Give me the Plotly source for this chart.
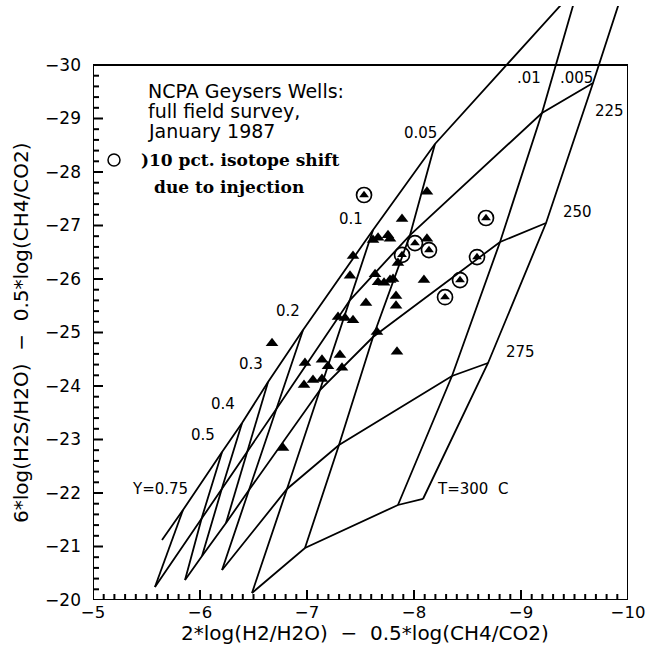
import plotly.graph_objects as go

# Steam-fraction (Y) levels, in the order nodes are listed along each isotherm
Y_LEVELS = [".005", ".01", "0.05", "0.1", "0.2", "0.3", "0.4", "0.5", "0.75"]

# Isotherm nodes (x, y) ordered by Y_LEVELS; T=200 carries one extra tail point
T200_X = [-10.047, -9.542, -8.196, -7.617, -6.963, -6.636, -6.393, -6.206, -5.841, -5.645]
T200_Y = [-31.963, -31.495, -28.523, -26.916, -25.047, -24.075, -23.308, -22.766, -21.682, -21.121]
T225_X = [-9.673, -9.196, -7.963, -7.402, -6.720, -6.439, -6.206, -6.019, -5.579]
T225_Y = [-29.664, -29.103, -26.822, -25.607, -23.589, -22.766, -22.093, -21.551, -20.243]
T250_X = [-9.234, -8.804, -7.617, -7.121, -6.458, -6.243, -6.019, -5.860]
T250_Y = [-27.047, -26.692, -24.916, -23.925, -22.056, -21.439, -20.822, -20.374]
T275_X = [-8.692, -8.355, -7.299, -6.813, -6.206]
T275_Y = [-24.430, -24.187, -22.897, -22.075, -20.561]
T300_X = [-8.084, -7.850, -6.981, -6.486]
T300_Y = [-21.888, -21.776, -20.972, -20.131]

# Well samples
WELL_X = [-8.121, -7.888, -7.617, -7.664, -7.757, -7.776, -8.121, -7.430, -7.850,
          -7.402, -7.636, -7.664, -7.720, -7.776, -7.804, -8.093, -7.832, -7.551,
          -7.832, -7.290, -7.355, -7.430, -7.654, -6.673, -7.841, -6.981, -7.140,
          -7.196, -7.308, -7.327, -6.972, -7.056, -7.140, -6.776]
WELL_Y = [-27.63, -27.12, -26.73, -26.77, -26.82, -26.75, -26.75, -26.43, -26.30,
          -26.06, -26.09, -25.94, -25.93, -25.98, -26.00, -25.98, -25.68, -25.55,
          -25.50, -25.29, -25.27, -25.23, -25.01, -24.80, -24.64, -24.43, -24.49,
          -24.37, -24.58, -24.34, -24.02, -24.11, -24.13, -22.84]

# Wells with >10 pct. isotope shift due to injection
SHIFT_X = [-7.533, -8.673, -8.009, -8.140, -7.888, -8.589, -8.430, -8.290]
SHIFT_Y = [-27.57, -27.14, -26.67, -26.54, -26.45, -26.41, -25.98, -25.66]

X_TICKS = [-5, -6, -7, -8, -9, -10]
Y_TICKS = [-20, -21, -22, -23, -24, -25, -26, -27, -28, -29, -30]

ISOTHERMS = [(T200_X, T200_Y), (T225_X, T225_Y), (T250_X, T250_Y),
             (T275_X, T275_Y), (T300_X, T300_Y)]

LINE = dict(color="black", width=1.8)
fig = go.Figure()

# constant-temperature lines
for xs, ys in ISOTHERMS:
    fig.add_trace(go.Scatter(x=xs, y=ys, mode="lines", line=LINE,
                             hoverinfo="skip", showlegend=False))

# constant steam-fraction lines join the same node across isotherms
for j in range(len(Y_LEVELS)):
    xs = [tx[j] for tx, ty in ISOTHERMS if j < min(len(tx), len(Y_LEVELS))]
    ys = [ty[j] for tx, ty in ISOTHERMS if j < min(len(ty), len(Y_LEVELS))]
    fig.add_trace(go.Scatter(x=xs, y=ys, mode="lines", line=LINE,
                             hoverinfo="skip", showlegend=False))

fig.add_trace(go.Scatter(x=WELL_X, y=WELL_Y, mode="markers", showlegend=False,
                         marker=dict(symbol="triangle-up", size=11, color="black",
                                     line=dict(width=0))))
fig.add_trace(go.Scatter(x=SHIFT_X, y=SHIFT_Y, mode="markers", showlegend=False,
                         marker=dict(symbol="triangle-up", size=8.5, color="black",
                                     line=dict(width=0))))
fig.add_trace(go.Scatter(x=SHIFT_X, y=SHIFT_Y, mode="markers", showlegend=False,
                         marker=dict(symbol="circle-open", size=15, color="black",
                                     line=dict(width=1.7, color="black"))))

# inward tick marks along the bottom and left edges of the frame
# (lengths in axis units: 107 px per x unit, 53.5 px per y unit)
tick_x, tick_y = [], []
for i in range(0, 51):
    v = -5 - 0.1 * i
    ln = (10 if i % 10 == 0 else 6) / 53.5
    tick_x += [v, v, None]
    tick_y += [-20, -20 - ln, None]
for i in range(0, 51):
    v = -20 - 0.2 * i
    ln = (10 if i % 5 == 0 else 6) / 107.0
    tick_x += [-5, -5 - ln, None]
    tick_y += [v, v, None]
fig.add_trace(go.Scatter(x=tick_x, y=tick_y, mode="lines", connectgaps=False,
                         line=dict(color="black", width=2),
                         hoverinfo="skip", showlegend=False))

SANS = "DejaVu Sans"
annotations = []

def node_label(text, xs, ys, j, dx, dy):
    annotations.append(dict(x=xs[j], y=ys[j], xref="x", yref="y", text=text,
                            showarrow=False, xanchor="center", yanchor="middle",
                            xshift=dx, yshift=dy,
                            font=dict(family=SANS, size=15, color="black")))

# steam-fraction labels along the 200 C isotherm
node_label("Y=0.75", T200_X, T200_Y, 8, -23, 21)
node_label(Y_LEVELS[7], T200_X, T200_Y, 7, -19, 17)
node_label(Y_LEVELS[6], T200_X, T200_Y, 6, -19, 19)
node_label(Y_LEVELS[5], T200_X, T200_Y, 5, -17, 18)
node_label(Y_LEVELS[4], T200_X, T200_Y, 4, -15, 19)
node_label(Y_LEVELS[3], T200_X, T200_Y, 3, -22, 11)
node_label(Y_LEVELS[2], T200_X, T200_Y, 2, -14, 11)
node_label(Y_LEVELS[1], T225_X, T225_Y, 1, -13, 35)
node_label(Y_LEVELS[0], T225_X, T225_Y, 0, -17, 5)
# temperature labels at the low-Y end of each isotherm
node_label("225", T225_X, T225_Y, 0, 16, -28)
node_label("250", T250_X, T250_Y, 0, 31, 11)
node_label("275", T275_X, T275_Y, 0, 32, 11)
node_label("T=300\u00a0\u00a0C", T300_X, T300_Y, 0, 50, 10)

def px(xp):
    return (xp - 93) / 535.0

def py(yp):
    return (600 - yp) / 594.0

def paper_text(text, x, y, size, family, xanchor="left", angle=0, weight="normal"):
    annotations.append(dict(x=px(x), y=py(y), xref="paper", yref="paper", text=text,
                            showarrow=False, xanchor=xanchor, yanchor="middle",
                            textangle=angle,
                            font=dict(family=family, size=size, color="black",
                                      weight=weight)))

paper_text("NCPA Geysers Wells:", 146, 91, 19, SANS)
paper_text("full field survey,", 146, 111, 19, SANS)
paper_text("January 1987", 146, 131, 19, SANS)
paper_text(")10 pct. isotope shift", 139, 160, 17, "DejaVu Serif", weight="bold")
paper_text("due to injection", 152, 187, 17, "DejaVu Serif", weight="bold")
paper_text("2*log(H2/H2O)\u00a0\u00a0\u2212\u00a0\u00a00.5*log(CH4/CO2)", 365, 633, 20, SANS,
           xanchor="center")
paper_text("6*log(H2S/H2O)\u00a0\u00a0\u2212\u00a0\u00a00.5*log(CH4/CO2)", 21, 333, 20, SANS,
           xanchor="center", angle=-90)

shapes = [
    # plot frame
    dict(type="rect", xref="x", yref="y", x0=-5, x1=-10, y0=-20, y1=-30,
         line=dict(color="black", width=2), layer="above"),
    # open-circle key symbol
    dict(type="circle", xref="paper", yref="paper", xsizemode="pixel",
         ysizemode="pixel", xanchor=px(114), yanchor=py(160),
         x0=-6, x1=6, y0=-6, y1=6, line=dict(color="black", width=1.5)),
]

fig.update_layout(
    width=656, height=646, autosize=False,
    margin=dict(l=93, r=28, t=6, b=46, pad=0),
    paper_bgcolor="white", plot_bgcolor="white",
    annotations=annotations, shapes=shapes,
    xaxis=dict(range=[-5, -10], showgrid=False, zeroline=False, showline=False,
               tickmode="array", tickvals=X_TICKS,
               ticktext=["\u2212" + str(-v) for v in X_TICKS],
               ticks="", ticklabelstandoff=0,
               tickfont=dict(family=SANS, size=16.5, color="black")),
    yaxis=dict(range=[-20, -31.1028], showgrid=False, zeroline=False, showline=False,
               tickmode="array", tickvals=Y_TICKS,
               ticktext=["\u2212" + str(-v) for v in Y_TICKS],
               ticks="", ticklabelstandoff=11,
               tickfont=dict(family=SANS, size=17, color="black")),
)

fig.write_html("out.html")
